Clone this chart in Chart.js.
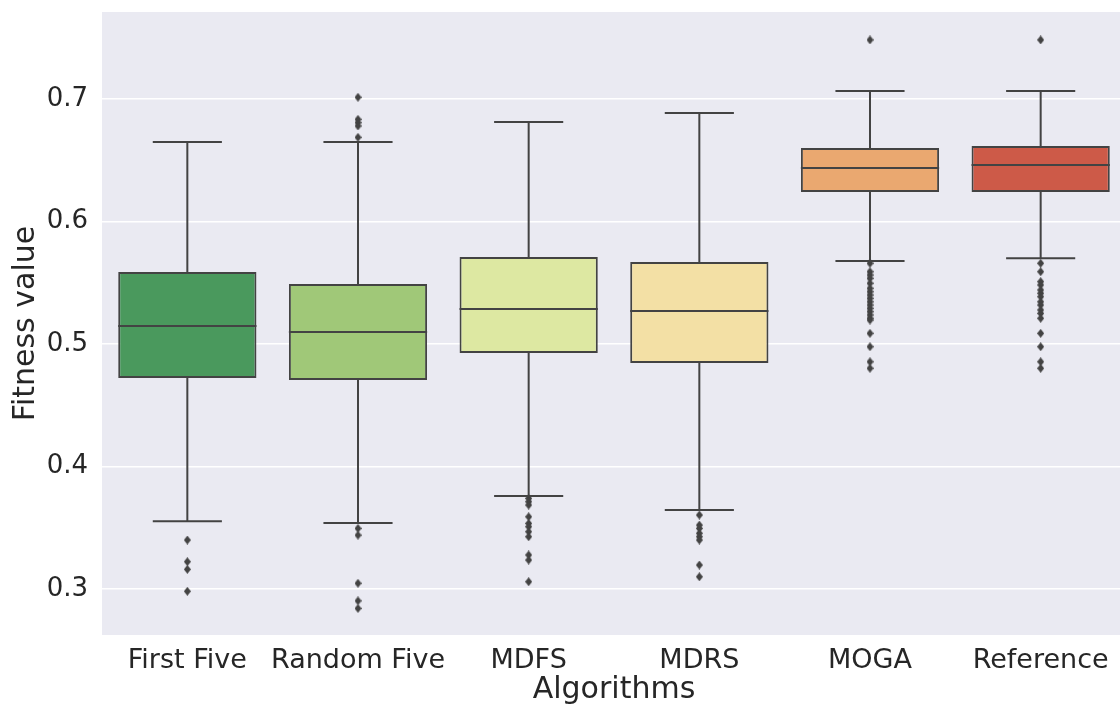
<!DOCTYPE html>
<html>
<head>
<meta charset="utf-8">
<script src="https://cdn.jsdelivr.net/npm/chart.js@4/dist/chart.umd.min.js"></script>
<style>
  html, body { margin: 0; padding: 0; background: #ffffff; overflow: hidden; }
  #wrap { width: 1126px; height: 707px; }
</style>
</head>
<body>
<div id="wrap"><canvas id="boxChart"></canvas></div>
<script>
// ----- data -----
var categories = ['First Five', 'Random Five', 'MDFS', 'MDRS', 'MOGA', 'Reference'];
var q1 = [0.4722, 0.4706, 0.4927, 0.4845, 0.6241, 0.6241];
var q3 = [0.5588, 0.5490, 0.5710, 0.5670, 0.6600, 0.6616];
var medians = [0.5147, 0.5098, 0.5286, 0.5270, 0.6437, 0.6461];
var whiskerLow = [0.3553, 0.3539, 0.3760, 0.3645, 0.5678, 0.5700];
var whiskerHigh = [0.6649, 0.6649, 0.6812, 0.6886, 0.7065, 0.7065];
var outliersFirstFive = [0.3400, 0.3223, 0.3161, 0.2982];
var outliersRandomFive = [0.7014, 0.6834, 0.6807, 0.6780, 0.6687, 0.3495, 0.3440, 0.3047, 0.2904, 0.2842];
var outliersMDFS = [0.3740, 0.3713, 0.3686, 0.3590, 0.3536, 0.3509, 0.3468, 0.3427, 0.3278, 0.3237, 0.3060];
var outliersMDRS = [0.3604, 0.3522, 0.3495, 0.3455, 0.3427, 0.3400, 0.3196, 0.3100];
var outliersMOGA = [0.7482, 0.5659, 0.5590, 0.5563, 0.5536, 0.5496, 0.5455, 0.5427, 0.5400, 0.5373,
                    0.5345, 0.5318, 0.5291, 0.5264, 0.5237, 0.5210, 0.5196, 0.5087, 0.4978, 0.4855, 0.4802];
var outliersReference = [0.7482, 0.5659, 0.5590, 0.5509, 0.5482, 0.5441, 0.5414, 0.5386, 0.5345, 0.5318,
                         0.5278, 0.5250, 0.5210, 0.5087, 0.4978, 0.4855, 0.4802];
var yTicks = [0.3, 0.4, 0.5, 0.6, 0.7];

var boxColors = ['#4a995d', '#a0c878', '#dde8a2', '#f3e0a5', '#eaa870', '#cd5a48'];
var lineColor = '#434343';
var textColor = '#262626';

var outliers = [outliersFirstFive, outliersRandomFive, outliersMDFS, outliersMDRS, outliersMOGA, outliersReference];
var outlierPoints = [];
categories.forEach(function (c, i) {
  outliers[i].forEach(function (v) { outlierPoints.push({ x: c, y: v }); });
});

// thin diamond marker like seaborn's 'd'
var diamond = document.createElement('canvas');
diamond.width = 7;
diamond.height = 9;
(function () {
  var d = diamond.getContext('2d');
  d.fillStyle = lineColor;
  d.beginPath();
  d.moveTo(3.5, 0);
  d.lineTo(7, 4.5);
  d.lineTo(3.5, 9);
  d.lineTo(0, 4.5);
  d.closePath();
  d.fill();
})();

// grey seaborn background behind the plot area
var plotBackground = {
  id: 'plotBackground',
  beforeDraw: function (chart) {
    var a = chart.chartArea, ctx = chart.ctx;
    ctx.save();
    ctx.fillStyle = '#eaeaf2';
    ctx.fillRect(a.left, a.top, a.right - a.left, a.bottom - a.top);
    ctx.restore();
  }
};

// whiskers, caps and medians drawn through the scales
var boxLines = {
  id: 'boxLines',
  afterDatasetsDraw: function (chart) {
    var ctx = chart.ctx, y = chart.scales.y;
    var meta = chart.getDatasetMeta(0);
    ctx.save();
    ctx.strokeStyle = lineColor;
    ctx.lineWidth = 2;
    categories.forEach(function (c, i) {
      var bar = meta.data[i];
      var cx = bar.x, half = bar.width / 2, cap = half / 2;
      var yq1 = y.getPixelForValue(q1[i]), yq3 = y.getPixelForValue(q3[i]);
      var ylo = y.getPixelForValue(whiskerLow[i]), yhi = y.getPixelForValue(whiskerHigh[i]);
      var ymed = y.getPixelForValue(medians[i]);
      ctx.beginPath();
      ctx.moveTo(cx, yq1); ctx.lineTo(cx, ylo);
      ctx.moveTo(cx, yq3); ctx.lineTo(cx, yhi);
      ctx.moveTo(cx - cap, ylo); ctx.lineTo(cx + cap, ylo);
      ctx.moveTo(cx - cap, yhi); ctx.lineTo(cx + cap, yhi);
      ctx.moveTo(cx - half, ymed); ctx.lineTo(cx + half, ymed);
      ctx.stroke();
    });
    ctx.restore();
  }
};

var ctx = document.getElementById('boxChart').getContext('2d');
var chart = new Chart(ctx, {
  type: 'bar',
  data: {
    labels: categories,
    datasets: [{
      label: 'IQR',
      data: categories.map(function (c, i) { return [q1[i], q3[i]]; }),
      backgroundColor: boxColors,
      borderColor: lineColor,
      borderWidth: 2,
      borderSkipped: false,
      categoryPercentage: 1.0,
      barPercentage: 0.81,
      order: 2
    }, {
      type: 'scatter',
      label: 'Outliers',
      data: outlierPoints,
      pointStyle: diamond,
      pointRadius: 4,
      order: 1
    }]
  },
  options: {
    responsive: true,
    maintainAspectRatio: false,
    animation: false,
    layout: { autoPadding: false, padding: { top: 12, right: 0, left: 0, bottom: 0 } },
    plugins: {
      legend: { display: false },
      tooltip: { enabled: false }
    },
    scales: {
      x: {
        type: 'category',
        offset: true,
        grid: { display: false, drawTicks: false },
        border: { display: false },
        ticks: {
          color: textColor, padding: 10, maxRotation: 0, minRotation: 0, autoSkip: false,
          font: { family: 'DejaVu Sans', size: 27 }
        },
        title: {
          display: true, text: 'Algorithms', color: textColor,
          font: { family: 'DejaVu Sans', size: 30, lineHeight: 1.1 }, padding: { top: 0, bottom: 0 }
        },
        afterFit: function (scale) {
          scale.height = 72;
          scale.paddingLeft = 0;
          scale.paddingRight = 0;
        }
      },
      y: {
        min: 0.2625,
        max: 0.771,
        grid: { color: '#ffffff', lineWidth: 1.5, drawTicks: false },
        border: { display: false },
        afterBuildTicks: function (scale) {
          scale.ticks = yTicks.map(function (v) { return { value: v }; });
        },
        ticks: {
          color: textColor, padding: 14,
          font: { family: 'DejaVu Sans', size: 26 },
          callback: function (v) { return v.toFixed(1); }
        },
        title: {
          display: true, text: 'Fitness value', color: textColor,
          font: { family: 'DejaVu Sans', size: 30 }, padding: { top: 8, bottom: 0 }
        },
        afterFit: function (scale) {
          scale.width = 102;
          scale.paddingTop = 0;
          scale.paddingBottom = 0;
        }
      }
    }
  },
  plugins: [plotBackground, boxLines]
});
</script>
</body>
</html>
